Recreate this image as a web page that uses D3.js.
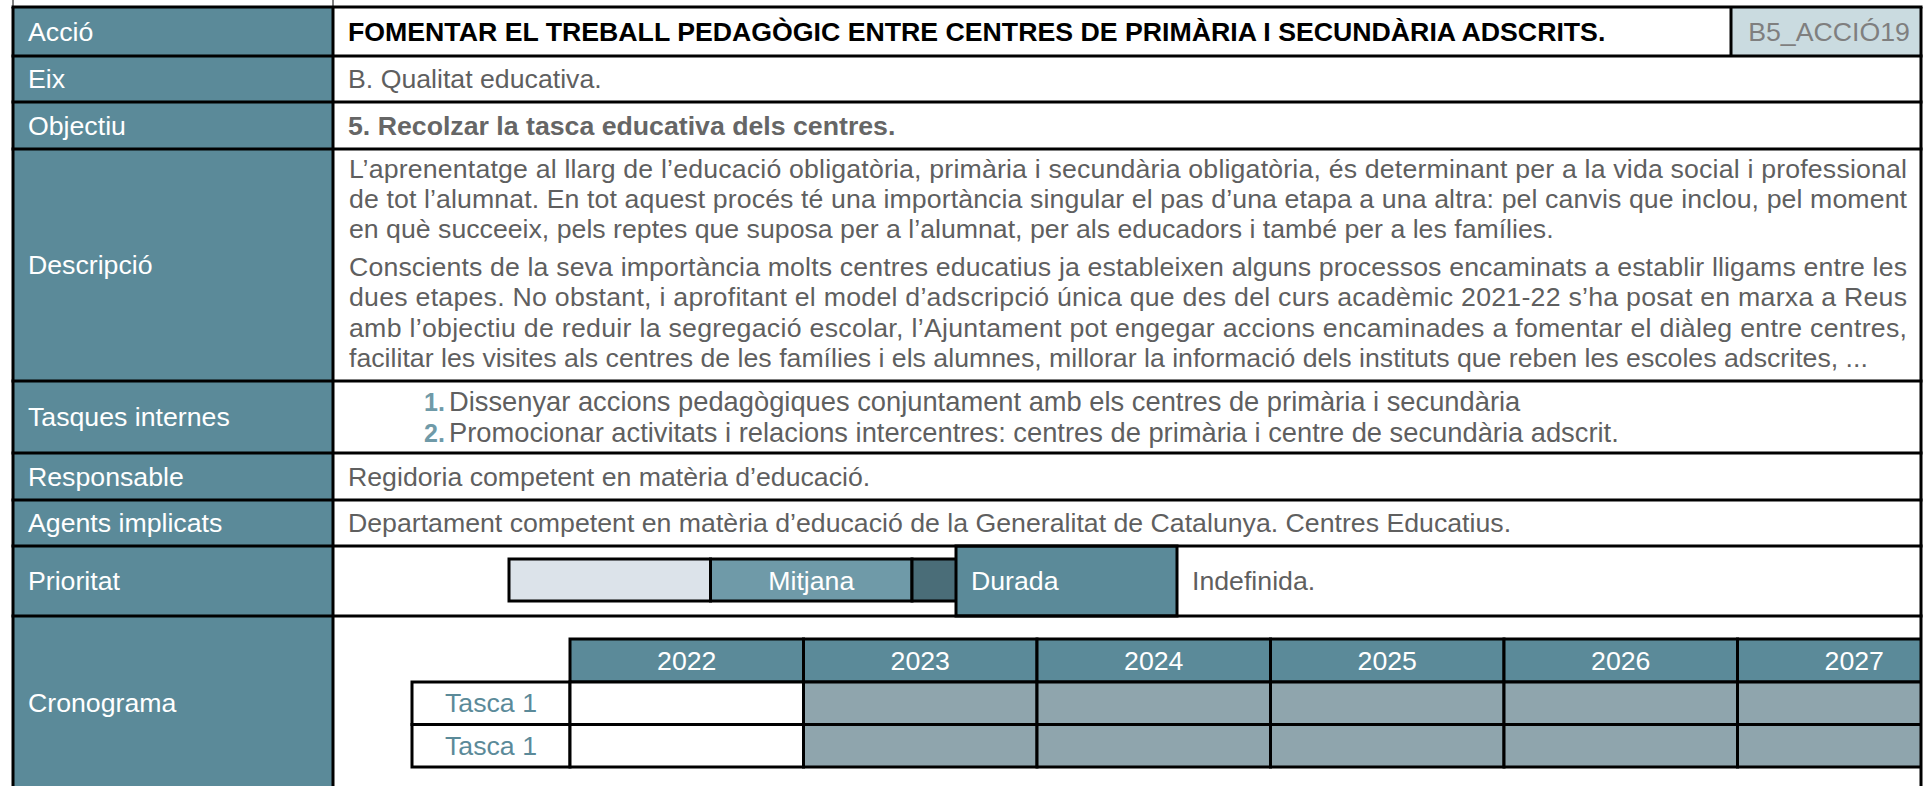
<!DOCTYPE html>
<html><head><meta charset="utf-8">
<script src="https://cdn.jsdelivr.net/npm/d3@7"></script>
<style>html,body{margin:0;padding:0;background:#fff;overflow:hidden}svg{display:block}</style>
</head><body><svg id="c" width="1928" height="786"></svg>
<script>
// ---------- DATA ----------
const rowLabels = ["Acció","Eix","Objectiu","Descripció","Tasques internes","Responsable","Agents implicats","Prioritat","Cronograma"];
const actionTitle = "FOMENTAR EL TREBALL PEDAGÒGIC ENTRE CENTRES DE PRIMÀRIA I SECUNDÀRIA ADSCRITS.";
const actionCode = "B5_ACCIÓ19";
const eixText = "B. Qualitat educativa.";
const objectiuText = "5. Recolzar la tasca educativa dels centres.";
const descParagraph1 = [
  "L’aprenentatge al llarg de l’educació obligatòria, primària i secundària obligatòria, és determinant per a la vida social i professional",
  "de tot l’alumnat. En tot aquest procés té una importància singular el pas d’una etapa a una altra: pel canvis que inclou, pel moment",
  "en què succeeix, pels reptes que suposa per a l’alumnat, per als educadors i també per a les famílies."
];
const descParagraph2 = [
  "Conscients de la seva importància molts centres educatius ja estableixen alguns processos encaminats a establir lligams entre les",
  "dues etapes. No obstant, i aprofitant el model d’adscripció única que des del curs acadèmic 2021-22 s’ha posat en marxa a Reus",
  "amb l’objectiu de reduir la segregació escolar, l’Ajuntament pot engegar accions encaminades a fomentar el diàleg entre centres,",
  "facilitar les visites als centres de les famílies i els alumnes, millorar la informació dels instituts que reben les escoles adscrites, ..."
];
const internalTasks = [
  "Dissenyar accions pedagògiques conjuntament amb els centres de primària i secundària",
  "Promocionar activitats i relacions intercentres: centres de primària i centre de secundària adscrit."
];
const responsableText = "Regidoria competent en matèria d’educació.";
const agentsText = "Departament competent en matèria d’educació de la Generalitat de Catalunya. Centres Educatius.";
const priorityLevels = ["", "Mitjana", ""];
const durationLabel = "Durada";
const durationValue = "Indefinida.";
const years = ["2022","2023","2024","2025","2026","2027"];
const scheduleTasks = ["Tasca 1","Tasca 1"];
const scheduleActive = [[0,1,1,1,1,1],[0,1,1,1,1,1]];

// ---------- LAYOUT / STYLE ----------
const teal = "#5b8a99", grey = "#8fa5ad", txt = "#5f5f5f";
const FONT = "'Liberation Sans', Arial, sans-serif", FS = 26.7;
const L = 13, M = 333, R = 1921;
const rowEdges = [7,56,102,149,381,453,500,546,616,800];
const svg = d3.select("#c");
svg.append("defs").append("clipPath").attr("id","tbl").append("rect")
  .attr("x",L).attr("y",0).attr("width",R-L).attr("height",786);
const g = svg.append("g").attr("clip-path","url(#tbl)");

function text(sel, x, y, s, opt={}) {
  return sel.append("text").attr("x",x).attr("y",y).text(s)
    .attr("font-family",FONT).attr("font-size",opt.fs||FS)
    .attr("font-weight",opt.bold?"bold":"normal")
    .attr("fill",opt.fill||txt).attr("text-anchor",opt.anchor||"start");
}

// label column
const rowY = d3.scaleOrdinal().domain(rowLabels).range(rowEdges.slice(0,-1));
const rowH = l => rowEdges[rowLabels.indexOf(l)+1] - rowY(l);
g.append("rect").attr("x",L).attr("y",rowEdges[0]).attr("width",M-L).attr("height",786).attr("fill",teal);
g.selectAll("text.lab").data(rowLabels).join("text").attr("class","lab")
  .attr("x",28).attr("y",d => d==="Cronograma" ? 712 : rowY(d)+rowH(d)/2+9)
  .text(d=>d).attr("font-family",FONT).attr("font-size",FS).attr("fill","#fff");

// Acció row
g.append("rect").attr("x",1731).attr("y",7).attr("width",R-1731).attr("height",49).attr("fill","#cadbe0");
text(g, 348, 41, actionTitle, {bold:true, fill:"#000"});
text(g, 1829, 41, actionCode, {fill:"#7f7f7f", anchor:"middle"});
// Eix, Objectiu
text(g, 348, 88, eixText);
text(g, 348, 135, objectiuText, {bold:true, fill:"#666"});
// Descripció
const dX0 = 349, dX1 = 1907;
const descLines = [];
descParagraph1.forEach((s,i)=>descLines.push({s, y:177.5+i*30.3, just:i<descParagraph1.length-1}));
descParagraph2.forEach((s,i)=>descLines.push({s, y:276+i*30.4, just:i<descParagraph2.length-1}));
descLines.forEach(d=>{
  const t = text(g, dX0, d.y, d.s);
  if (d.just) t.attr("textLength", dX1-dX0).attr("lengthAdjust","spacing");
});
// Tasques internes
internalTasks.forEach((s,i)=>{
  const y = 411 + i*31;
  text(g, 424, y, (i+1)+".", {bold:true, fill:"#6f9aa8", fs:25});
  text(g, 449, y, s, {fs:27.3});
});
text(g, 348, 486, responsableText);
text(g, 348, 532, agentsText);

// Prioritat
const pX = d3.scaleBand().domain(d3.range(priorityLevels.length)).range([509, 509+3*201.5]);
const pCol = ["#dce3ea","#6f9aa8","#4a6d78"];
g.selectAll("rect.pr").data(priorityLevels).join("rect").attr("class","pr")
  .attr("x",(d,i)=>pX(i)).attr("y",559).attr("width",pX.bandwidth()).attr("height",42)
  .attr("fill",(d,i)=>pCol[i]).attr("stroke","#000").attr("stroke-width",3);
g.selectAll("text.pr").data(priorityLevels).join("text").attr("class","pr")
  .attr("x",(d,i)=>pX(i)+pX.bandwidth()/2).attr("y",590).text(d=>d)
  .attr("text-anchor","middle").attr("font-family",FONT).attr("font-size",FS).attr("fill","#fff");
g.append("rect").attr("x",956).attr("y",546).attr("width",1177-956).attr("height",70)
  .attr("fill",teal).attr("stroke","#000").attr("stroke-width",3);
text(g, 971, 590, durationLabel, {fill:"#fff"});
text(g, 1192, 590, durationValue);

// Cronograma
const x = d3.scaleBand().domain(years).range([570, 570+233.5*years.length]);
const yS = d3.scaleBand().domain(d3.range(scheduleTasks.length)).range([682, 767]);
g.selectAll("rect.yr").data(years).join("rect").attr("class","yr")
  .attr("x",d=>x(d)).attr("y",639).attr("width",x.bandwidth()).attr("height",43)
  .attr("fill",teal).attr("stroke","#000").attr("stroke-width",3);
g.selectAll("text.yr").data(years).join("text").attr("class","yr")
  .attr("x",d=>x(d)+x.bandwidth()/2).attr("y",670).text(d=>d)
  .attr("text-anchor","middle").attr("font-family",FONT).attr("font-size",FS).attr("fill","#fff");
scheduleTasks.forEach((t,i)=>{
  g.append("rect").attr("x",412).attr("y",yS(i)).attr("width",570-412).attr("height",yS.bandwidth())
    .attr("fill","#fff").attr("stroke","#000").attr("stroke-width",3);
  text(g, 491, yS(i)+yS.bandwidth()/2+9, t, {fill:teal, anchor:"middle"});
  g.selectAll(null).data(years).join("rect")
    .attr("x",d=>x(d)).attr("y",yS(i)).attr("width",x.bandwidth()).attr("height",yS.bandwidth())
    .attr("fill",(d,j)=>scheduleActive[i][j]?grey:"#fff").attr("stroke","#000").attr("stroke-width",3);
});

// grid lines
const lines = svg.append("g").attr("stroke","#000").attr("stroke-width",3);
rowEdges.slice(0,-1).forEach(y=>lines.append("line").attr("x1",L-1.5).attr("x2",R+1.5).attr("y1",y).attr("y2",y));
[L,M,R].forEach(xx=>lines.append("line").attr("x1",xx).attr("x2",xx).attr("y1",rowEdges[0]).attr("y2",786));
lines.append("line").attr("x1",1731).attr("x2",1731).attr("y1",7).attr("y2",56);
[L,M].forEach(xx=>svg.append("line").attr("x1",xx).attr("x2",xx).attr("y1",0).attr("y2",7).attr("stroke","#000").attr("stroke-width",1));
</script></body></html>
